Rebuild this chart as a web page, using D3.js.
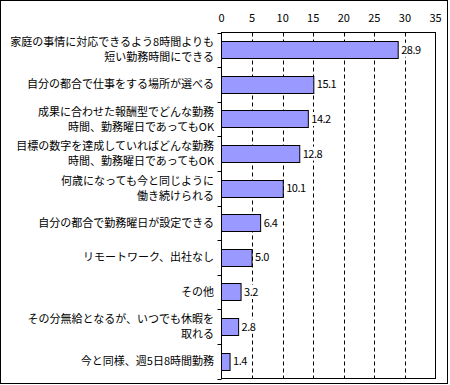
<!DOCTYPE html>
<html><head><meta charset="utf-8">
<script src="https://cdn.jsdelivr.net/npm/d3@7"></script>
<style>body{margin:0;background:#fff}svg{display:block}</style>
</head><body>
<svg id="c" width="450" height="385"></svg>
<script>
const categories = [
  ["家庭の事情に対応できるよう8時間よりも","短い勤務時間にできる"],
  ["自分の都合で仕事をする場所が選べる"],
  ["成果に合わせた報酬型でどんな勤務","時間、勤務曜日であってもOK"],
  ["目標の数字を達成していればどんな勤務","時間、勤務曜日であってもOK"],
  ["何歳になっても今と同じように","働き続けられる"],
  ["自分の都合で勤務曜日が設定できる"],
  ["リモートワーク、出社なし"],
  ["その他"],
  ["その分無給となるが、いつでも休暇を","取れる"],
  ["今と同様、週5日8時間勤務"]
];
const values = [28.9, 15.1, 14.2, 12.8, 10.1, 6.4, 5.0, 3.2, 2.8, 1.4];
const ticks = [0, 5, 10, 15, 20, 25, 30, 35];

const font = "'Noto Sans CJK JP', sans-serif";
const svg = d3.select("#c");
const L = 221.5, R = 435.5, T = 32.5, B = 378.5;

svg.append("rect").attr("x",0.5).attr("y",0.5).attr("width",447).attr("height",383)
  .attr("fill","#fff").attr("stroke","#000").attr("stroke-width",1);

const x = d3.scaleLinear().domain([0,35]).range([L,R]);
const y = d3.scaleBand().domain(d3.range(categories.length)).range([T,B]).paddingInner(0.5).paddingOuter(0.25);

// gridlines
svg.append("g").selectAll("line").data(ticks.filter(t=>t>0&&t<35)).join("line")
  .attr("x1",d=>Math.round(x(d))+0.5).attr("x2",d=>Math.round(x(d))+0.5)
  .attr("y1",T).attr("y2",B).attr("stroke","#000").attr("stroke-dasharray","4,3");

// plot frame
svg.append("rect").attr("x",L).attr("y",T).attr("width",R-L).attr("height",B-T)
  .attr("fill","none").attr("stroke","#000");

// top tick labels
svg.append("g").selectAll("text").data(ticks).join("text")
  .attr("x",d=>x(d)).attr("y",22).attr("text-anchor","middle")
  .attr("font-family",font).attr("font-size",11).text(d=>d);

// left axis ticks at band boundaries
const step = (B-T)/categories.length;
svg.append("g").selectAll("line").data(d3.range(categories.length+1)).join("line")
  .attr("x1",L-4).attr("x2",L).attr("y1",d=>Math.round(T+d*step)+0.5).attr("y2",d=>Math.round(T+d*step)+0.5)
  .attr("stroke","#000");

// bars
svg.append("g").selectAll("rect").data(values).join("rect")
  .attr("x",L).attr("y",(d,i)=>Math.round(y(i))+0.5)
  .attr("width",d=>x(d)-L).attr("height",Math.round(y.bandwidth()))
  .attr("fill","#9999FF").attr("stroke","#000");

// value labels with white background
const vg = svg.append("g");
values.forEach((d,i)=>{
  const g = vg.append("g");
  const t = g.append("text").attr("x",x(d)+3).attr("y",y(i)+y.bandwidth()/2+4)
    .attr("font-family",font).attr("font-size",11).attr("letter-spacing","-0.5")
    .text(d.toFixed(1));
  const bb = t.node().getBBox();
  g.insert("rect","text").attr("x",bb.x-1).attr("y",y(i)+y.bandwidth()/2-7)
    .attr("width",bb.width+2).attr("height",14).attr("fill","#fff");
});

// category labels
const cg = svg.append("g");
categories.forEach((lines,i)=>{
  const cy = y(i)+y.bandwidth()/2;
  const n = lines.length;
  lines.forEach((s,j)=>{
    cg.append("text").attr("x",214).attr("y",cy+4+(j-(n-1)/2)*15)
      .attr("text-anchor","end").attr("font-family",font).attr("font-size",11)
      .text(s);
  });
});
</script>
</body></html>
